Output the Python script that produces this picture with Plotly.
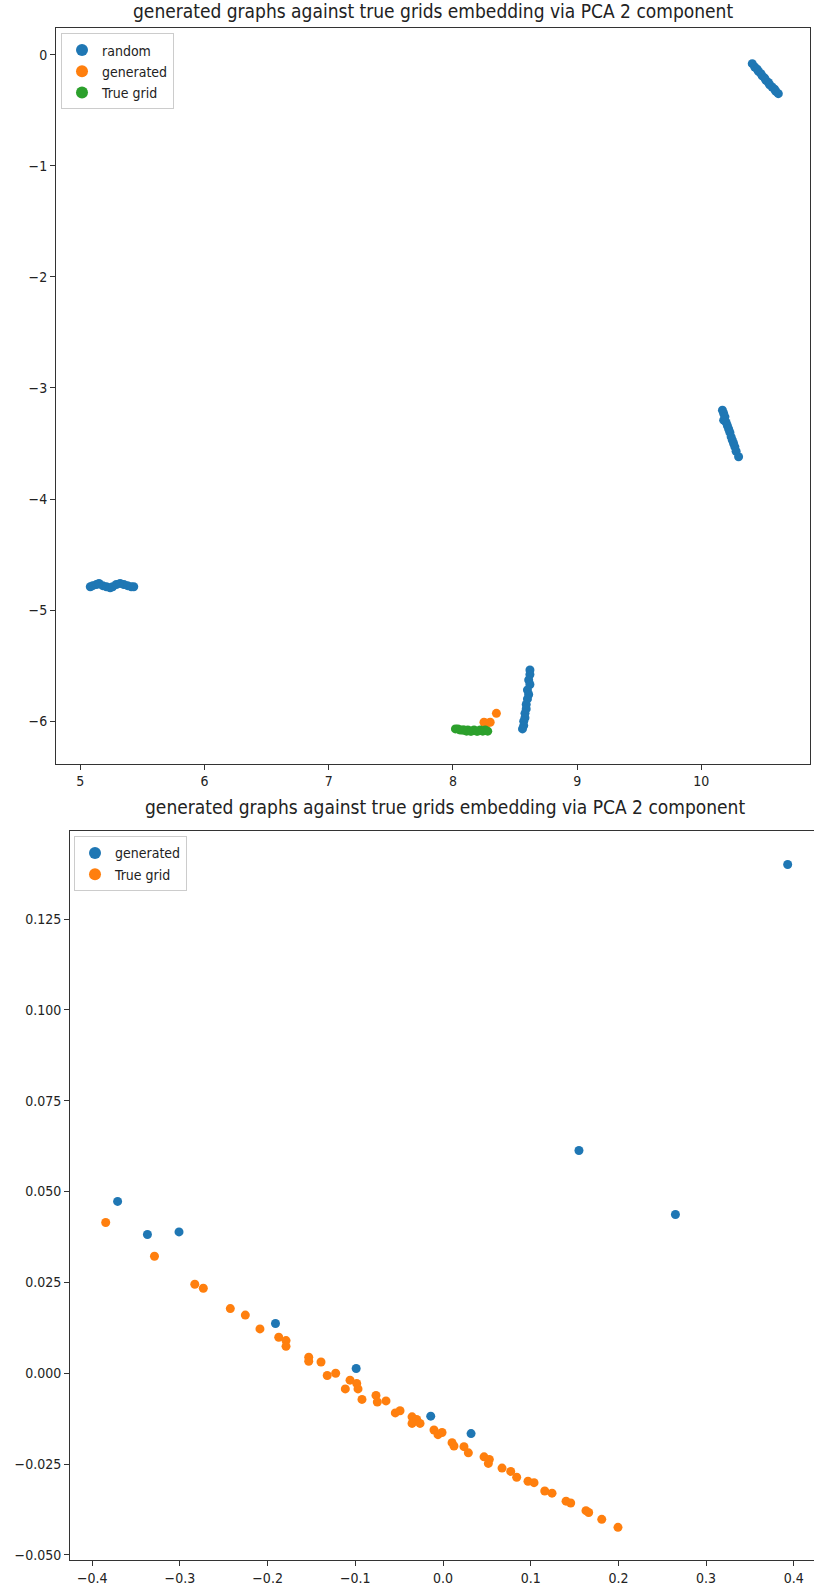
import plotly.graph_objects as go

# ---- Figure 1: random / generated / true grid embeddings (PCA, 2 components) ----
random_x = [10.41, 10.43, 10.45, 10.46, 10.48, 10.49, 10.51, 10.52, 10.54, 10.55, 10.57, 10.59, 10.60, 10.62,
            10.17, 10.18, 10.19, 10.18, 10.20, 10.21, 10.22, 10.23, 10.24, 10.25, 10.26, 10.27, 10.28, 10.30,
            5.08, 5.10, 5.13, 5.15, 5.18, 5.21, 5.24, 5.26, 5.29, 5.32, 5.35, 5.38, 5.41, 5.43,
            8.62, 8.62, 8.61, 8.62, 8.60, 8.61, 8.60, 8.59, 8.59, 8.58, 8.58, 8.57, 8.57, 8.56]
random_y = [-0.08, -0.11, -0.13, -0.15, -0.17, -0.19, -0.21, -0.23, -0.25, -0.27, -0.29, -0.31, -0.33, -0.35,
            -3.20, -3.23, -3.26, -3.29, -3.31, -3.34, -3.37, -3.40, -3.44, -3.47, -3.50, -3.53, -3.57, -3.62,
            -4.79, -4.78, -4.77, -4.76, -4.78, -4.79, -4.80, -4.79, -4.77, -4.76, -4.77, -4.78, -4.79, -4.79,
            -5.54, -5.58, -5.63, -5.67, -5.72, -5.76, -5.80, -5.85, -5.89, -5.93, -5.97, -6.00, -6.04, -6.07]

gen1_x = [8.35, 8.30, 8.27, 8.25]
gen1_y = [-5.93, -6.01, -6.02, -6.01]

grid1_x = [8.02, 8.04, 8.06, 8.08, 8.09, 8.11, 8.12, 8.14, 8.15, 8.17, 8.19, 8.20, 8.22, 8.24, 8.26, 8.28]
grid1_y = [-6.07, -6.07, -6.08, -6.08, -6.08, -6.09, -6.08, -6.09, -6.09, -6.08, -6.09, -6.09, -6.08, -6.09, -6.08, -6.09]

# ---- Figure 2: generated vs true grid only ----
gen2_x = [-0.371, -0.337, -0.301, -0.191, -0.099, -0.014, 0.032, 0.155, 0.265, 0.393]
gen2_y = [0.0473, 0.0382, 0.0389, 0.0137, 0.0013, -0.0118, -0.0166, 0.0613, 0.0437, 0.1400]

grid2_x = [-0.3846, -0.329, -0.283, -0.2733, -0.2425, -0.2254, -0.2087, -0.1873, -0.179, -0.179,
           -0.1531, -0.1531, -0.1391, -0.132, -0.1224, -0.106, -0.0984, -0.1114, -0.0969, -0.0924,
           -0.0764, -0.0749, -0.065, -0.0544, -0.049, -0.0353, -0.0353, -0.030, -0.0262, -0.0103,
           -0.0057, -0.0011, 0.0103, 0.0125, 0.0239, 0.0289, 0.0468, 0.0528, 0.0517, 0.0673,
           0.0772, 0.084, 0.0969, 0.1038, 0.116, 0.1243, 0.1403, 0.1456, 0.163, 0.1661,
           0.1810, 0.1995]
grid2_y = [0.0415, 0.0322, 0.0245, 0.0234, 0.0178, 0.0160, 0.0122, 0.0099, 0.0090, 0.0074,
           0.0044, 0.0033, 0.0031, -0.0006, 0.0000, -0.0019, -0.0028, -0.0043, -0.0043, -0.0072,
           -0.0061, -0.0079, -0.0076, -0.0109, -0.0103, -0.0120, -0.0138, -0.0127, -0.0138, -0.0156,
           -0.0169, -0.0163, -0.0191, -0.0200, -0.0202, -0.0219, -0.0230, -0.0237, -0.0248, -0.0261,
           -0.0270, -0.0286, -0.0297, -0.0301, -0.0324, -0.0330, -0.0352, -0.0357, -0.0378, -0.0383,
           -0.0402, -0.0424]

TITLE = "generated graphs against true grids embedding via PCA 2 component"
BLUE, ORANGE, GREEN = "#1f77b4", "#ff7f0e", "#2ca02c"
FONT = "DejaVu Sans Condensed, DejaVu Sans"
W, H = 814, 1594


def px_x(p):
    return p / W


def px_y(p):
    return 1 - p / H


def marker(color):
    return dict(color=color, size=9, line=dict(width=0))


fig = go.Figure()
fig.add_trace(go.Scatter(x=random_x, y=random_y, mode="markers", name="random",
                         marker=marker(BLUE), xaxis="x", yaxis="y", legend="legend"))
fig.add_trace(go.Scatter(x=gen1_x, y=gen1_y, mode="markers", name="generated",
                         marker=marker(ORANGE), xaxis="x", yaxis="y", legend="legend"))
fig.add_trace(go.Scatter(x=grid1_x, y=grid1_y, mode="markers", name="True grid",
                         marker=marker(GREEN), xaxis="x", yaxis="y", legend="legend"))
fig.add_trace(go.Scatter(x=gen2_x, y=gen2_y, mode="markers", name="generated",
                         marker=marker(BLUE), xaxis="x2", yaxis="y2", legend="legend2"))
fig.add_trace(go.Scatter(x=grid2_x, y=grid2_y, mode="markers", name="True grid",
                         marker=marker(ORANGE), xaxis="x2", yaxis="y2", legend="legend2"))

axis_common = dict(showgrid=False, zeroline=False, showline=True, linecolor="#333333", linewidth=1,
                   ticks="outside", ticklen=5, tickwidth=1, tickcolor="#333333",
                   tickfont=dict(family=FONT, size=14, color="#222222"))

legend_common = dict(bgcolor="white", bordercolor="#cccccc", borderwidth=1,
                     font=dict(family=FONT, size=14, color="#222222"),
                     xanchor="left", yanchor="top", itemsizing="constant", itemwidth=30,
                     tracegroupgap=0)

fig.update_layout(
    width=W, height=H, margin=dict(l=0, r=0, t=0, b=0),
    paper_bgcolor="white", plot_bgcolor="white",
    showlegend=True,
    xaxis=dict(domain=[px_x(56), px_x(810)], range=[4.804, 10.875], dtick=1, tick0=0,
               anchor="y", mirror=True, **axis_common),
    yaxis=dict(domain=[px_y(765), px_y(28.5)], range=[-6.382, 0.237], dtick=1, tick0=0,
               anchor="x", mirror=True, **axis_common),
    xaxis2=dict(domain=[px_x(70), 1.0], range=[-0.4253, 0.4230], dtick=0.1, tick0=0,
                tickformat=".1f", anchor="y2", mirror=True, **axis_common),
    yaxis2=dict(domain=[px_y(1563), px_y(833)], range=[-0.0514, 0.1491], dtick=0.025, tick0=0,
                tickformat=".3f", anchor="x2", mirror=False, **axis_common),
    legend=dict(x=px_x(61), y=px_y(33.5), **legend_common),
    legend2=dict(x=px_x(74), y=px_y(838), **legend_common),
    annotations=[
        dict(text=TITLE, x=px_x(433), y=px_y(11), xref="paper", yref="paper",
             xanchor="center", yanchor="middle", showarrow=False,
             font=dict(family=FONT, size=19, color="#222222")),
        dict(text=TITLE, x=px_x(445), y=px_y(809), xref="paper", yref="paper",
             xanchor="center", yanchor="middle", showarrow=False,
             font=dict(family=FONT, size=19, color="#222222")),
    ],
)

fig.write_html("out.html")
